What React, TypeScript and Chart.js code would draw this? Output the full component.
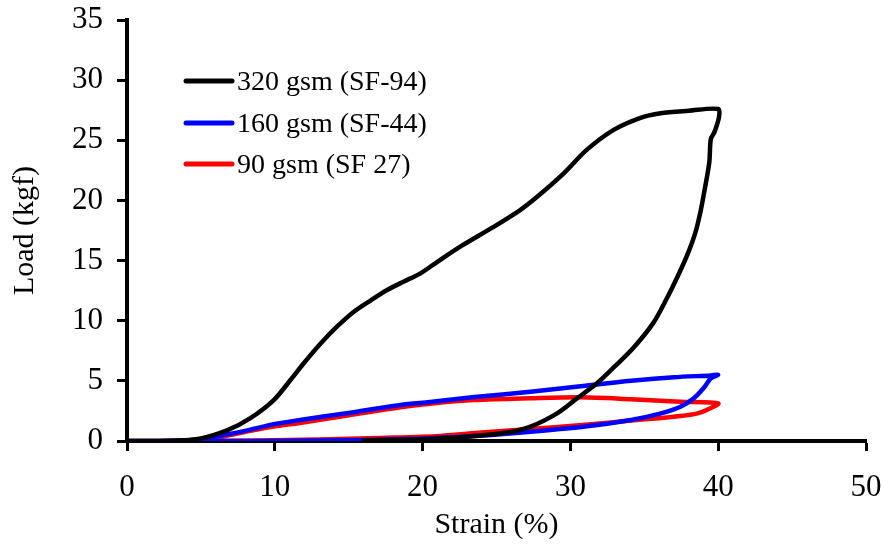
import React, { useEffect, useRef } from "react";
import { Chart, registerables } from "chart.js";

Chart.register(...registerables);

// Loading / unloading hysteresis loops, strain (%) vs load (kgf)
const seriesLabels = ["320 gsm (SF-94)", "160 gsm (SF-44)", "90 gsm (SF 27)"];
const seriesColors = ["#000000", "#0000ff", "#ff0000"];

const strain320 = [
  0, 3, 5, 6.8, 8.35, 9.93, 11.06, 11.96, 13.1, 14.2, 15.35, 16.5, 17.6, 18.7, 19.86, 21, 22.6, 24.8,
  26.6, 27.75, 29.55, 31.1, 32.9, 34.7, 36.1, 38, 40,
  40.05, 39.75, 39.5, 39.4, 39.1, 38.8, 38.45, 37.95, 37.3, 36.5, 35.6, 34.3, 33.0, 31.8, 30.4, 29.1,
  27.3, 25.7, 23, 20, 16,
];
const load320 = [
  0, 0.02, 0.22, 0.9, 1.9, 3.4, 5.07, 6.46, 8.1, 9.5, 10.75, 11.7, 12.55, 13.24, 13.94, 14.9, 16.2, 17.8,
  19.2, 20.3, 22.25, 24.2, 25.85, 26.85, 27.25, 27.45, 27.6,
  26.9, 25.7, 25.1, 23.2, 21.0, 19.06, 17.3, 15.6, 13.8, 11.8, 9.8, 7.8, 6.2, 4.8, 3.5, 2.3,
  1.2, 0.7, 0.35, 0.15, 0.05,
];

const strain160 = [
  0, 3, 5, 6.8, 8.35, 9.93, 11.7, 15.1, 18.5, 20.5, 23.5, 27.3, 30.7, 34.1, 37, 39.5, 40,
  39.5, 39.0, 38.35, 37.45, 36, 34.1, 31, 27.3, 24, 20.5, 17, 13, 9, 5,
];
const load160 = [
  0, 0.02, 0.15, 0.55, 0.95, 1.4, 1.75, 2.35, 3.0, 3.25, 3.65, 4.1, 4.55, 5.0, 5.3, 5.45, 5.5,
  5.2, 4.38, 3.55, 2.85, 2.25, 1.75, 1.2, 0.77, 0.45, 0.22, 0.1, 0.04, 0.01, 0,
];

const strain90 = [
  0, 3, 5, 6.8, 8.35, 9.93, 11.7, 15.1, 18.5, 20.5, 23.5, 27.3, 30.7, 34.1, 37.45, 40,
  39.26, 38.6, 37.45, 36, 34.1, 31, 27.3, 24, 21.2, 17, 13, 9, 5, 0,
];
const load90 = [
  0, 0.02, 0.12, 0.45, 0.85, 1.2, 1.5, 2.15, 2.8, 3.1, 3.4, 3.55, 3.63, 3.47, 3.27, 3.13,
  2.6, 2.3, 2.07, 1.9, 1.7, 1.35, 1.0, 0.7, 0.42, 0.25, 0.12, 0.05, 0.01, 0,
];

const xTicks = [0, 10, 20, 30, 40, 50];
const yTicks = [0, 5, 10, 15, 20, 25, 30, 35];

const SERIF = "'Liberation Serif', 'Times New Roman', serif";

function toPoints(xs: number[], ys: number[]) {
  return xs.map((x, i) => ({ x, y: ys[i] }));
}

// Legend drawn inside the plot area, at the upper left
const insideLegend = {
  id: "insideLegend",
  afterDraw(chart: any) {
    const ctx = chart.ctx as CanvasRenderingContext2D;
    const rows = [81, 123, 164];
    ctx.save();
    ctx.font = `28px ${SERIF}`;
    ctx.textBaseline = "middle";
    ctx.textAlign = "left";
    seriesLabels.forEach((label, i) => {
      const y = rows[i];
      ctx.strokeStyle = seriesColors[i];
      ctx.lineWidth = 5;
      ctx.lineCap = "round";
      ctx.beginPath();
      ctx.moveTo(186, y);
      ctx.lineTo(232, y);
      ctx.stroke();
      ctx.fillStyle = "#000";
      ctx.fillText(label, 237, y + 2);
    });
    ctx.restore();
  },
};

export default function App() {
  const canvasRef = useRef<HTMLCanvasElement | null>(null);

  useEffect(() => {
    document.body.style.margin = "0";
    const canvas = canvasRef.current;
    if (!canvas) return;

    const strains = [strain320, strain160, strain90];
    const loads = [load320, load160, load90];

    const chart = new Chart(canvas, {
      type: "scatter",
      data: {
        datasets: seriesLabels.map((label, i) => ({
          label,
          data: toPoints(strains[i], loads[i]),
          showLine: true,
          borderColor: seriesColors[i],
          backgroundColor: seriesColors[i],
          borderWidth: 4.5,
          pointRadius: 0,
          pointHoverRadius: 0,
          tension: 0.3,
          fill: false,
          borderCapStyle: "round" as const,
          borderJoinStyle: "round" as const,
        })),
      },
      options: {
        responsive: false,
        animation: false,
        events: [],
        layout: { padding: { top: 20, right: 19, left: 0, bottom: 0 } },
        plugins: {
          legend: { display: false },
          tooltip: { enabled: false },
        },
        scales: {
          x: {
            type: "linear",
            min: 0,
            max: 50,
            afterBuildTicks: (scale: any) => {
              scale.ticks = xTicks.map((v) => ({ value: v }));
            },
            afterFit: (scale: any) => {
              scale.height = 105;
              scale.paddingLeft = 0;
              scale.paddingRight = 0;
            },
            ticks: {
              color: "#000",
              font: { family: SERIF, size: 31 },
              padding: 18,
              maxRotation: 0,
            },
            grid: {
              display: true,
              drawOnChartArea: false,
              drawTicks: true,
              tickLength: 10,
              tickWidth: 3,
              tickColor: "#000",
            },
            border: { display: true, color: "#000", width: 4 },
            title: {
              display: true,
              text: "Strain (%)",
              color: "#000",
              font: { family: SERIF, size: 30 },
              padding: { top: 0, bottom: 3 },
            },
          },
          y: {
            type: "linear",
            min: 0,
            max: 35,
            afterBuildTicks: (scale: any) => {
              scale.ticks = yTicks.map((v) => ({ value: v }));
            },
            afterFit: (scale: any) => {
              scale.width = 127;
              scale.paddingTop = 0;
              scale.paddingBottom = 0;
            },
            ticks: {
              color: "#000",
              font: { family: SERIF, size: 31 },
              padding: 14,
            },
            grid: {
              display: true,
              drawOnChartArea: false,
              drawTicks: true,
              tickLength: 10,
              tickWidth: 3,
              tickColor: "#000",
            },
            border: { display: true, color: "#000", width: 4 },
            title: {
              display: true,
              text: "Load (kgf)",
              color: "#000",
              font: { family: SERIF, size: 30 },
              padding: { top: 7, bottom: 0 },
            },
          },
        },
      },
      plugins: [insideLegend],
    });

    return () => chart.destroy();
  }, []);

  return (
    <div style={{ width: 885, height: 546, background: "#fff" }}>
      <canvas ref={canvasRef} width={885} height={546} />
    </div>
  );
}
